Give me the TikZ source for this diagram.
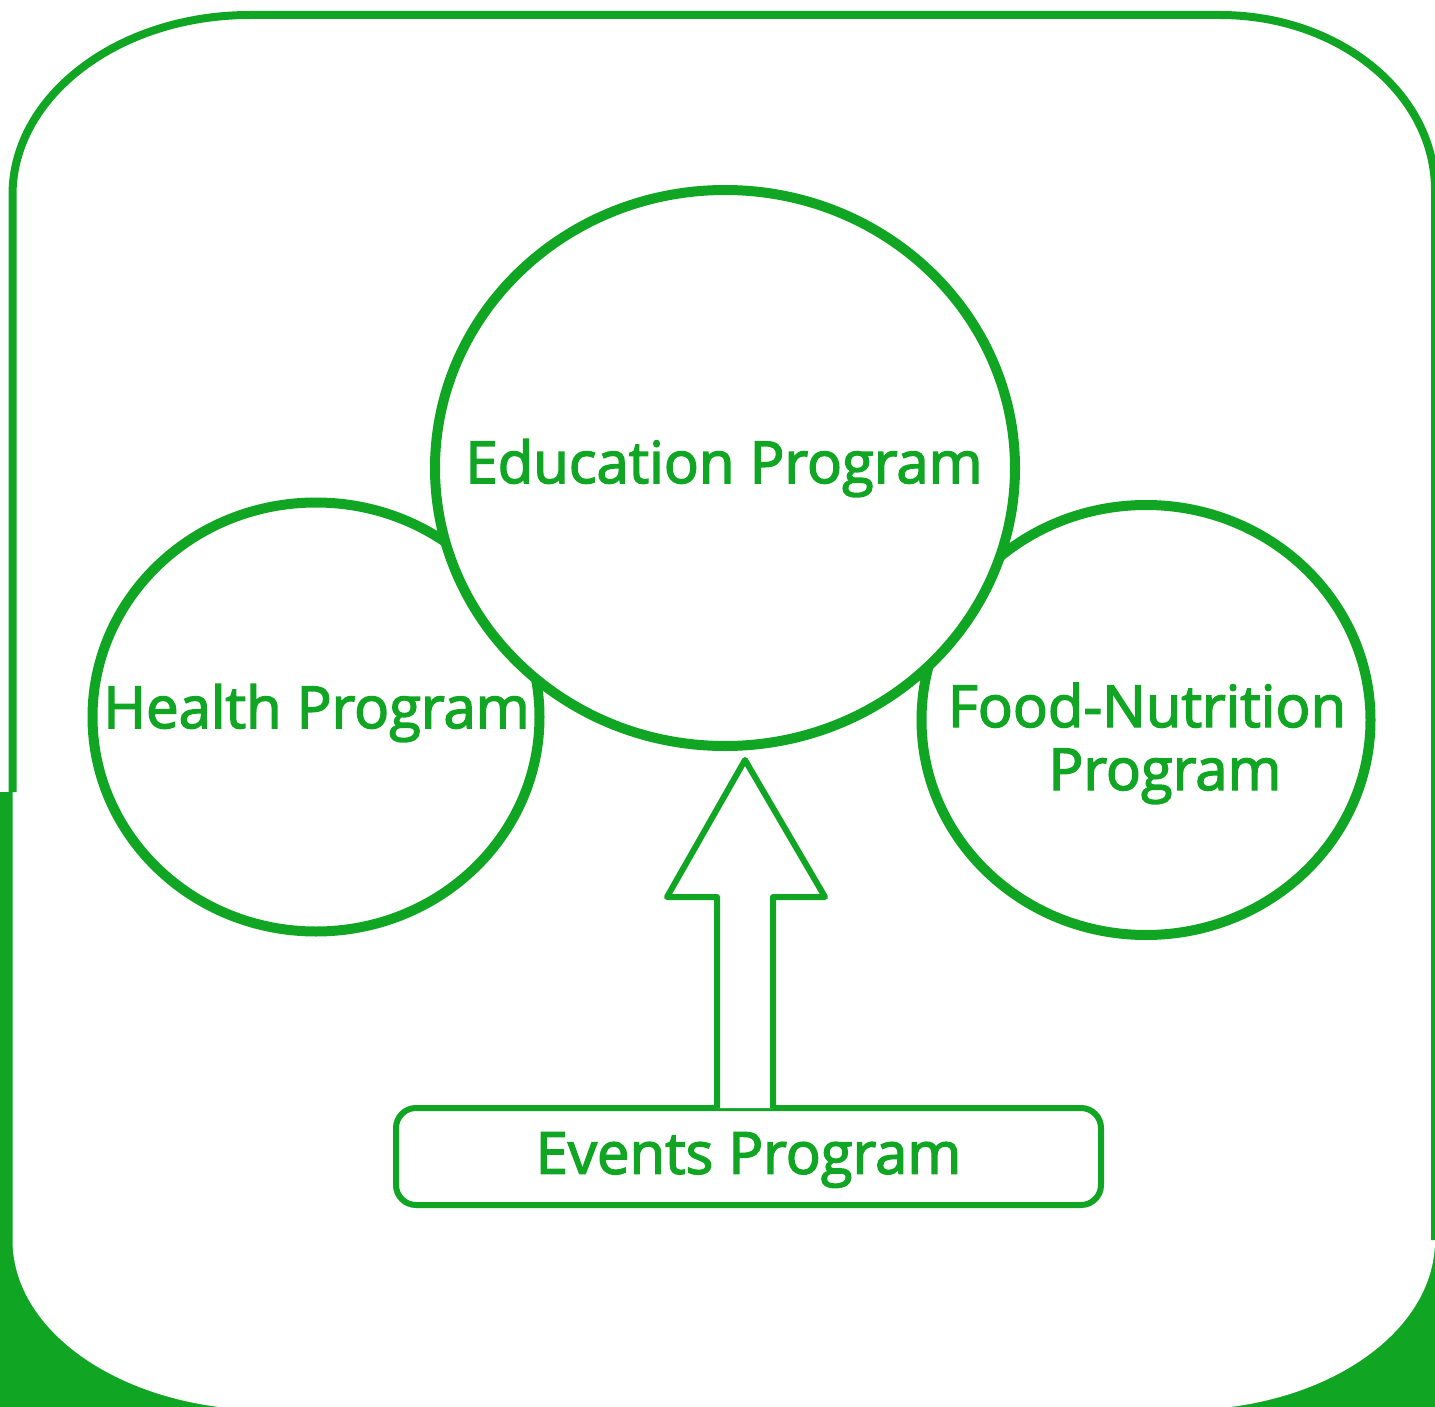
\documentclass[tikz,border=0pt]{standalone}
\usepackage{fontspec}
\setmainfont{Open Sans}
\newfontfamily\lblfont{Open Sans}[FakeBold=2.5]
\usetikzlibrary{shapes.geometric,calc}
\definecolor{pgreen}{RGB}{16,166,36}
\begin{document}
\begin{tikzpicture}[x=0.5pt,y=-0.5pt,
  bigcirc/.style={ellipse,draw=pgreen,line width=5pt,fill=white,inner sep=0pt},
  lbl/.style={text=pgreen,font=\lblfont\fontsize{29}{36}\selectfont,inner sep=0pt},
  evbox/.style={draw=pgreen,line width=3pt,rounded corners=10pt,fill=white,minimum width=352.5pt,minimum height=48.5pt,inner sep=0pt},
  arrowline/.style={draw=pgreen,line width=3pt,line join=round,fill=white}]
\useasboundingbox (0,0) rectangle (1435,1407);
% outside green areas
\fill[pgreen] (0,792) rectangle (16,1407);
\fill[pgreen] (0,1225) rectangle (1435,1407);
% white frame interior
\fill[white] (12.5,1240) -- (12.5,195)
  .. controls (12.5,95.6) and (118.8,15) .. (250,15)
  -- (1220,15)
  .. controls (1338.7,15) and (1435,93.3) .. (1435,190)
  -- (1435,1240)
  .. controls (1435,1333.9) and (1322.2,1410) .. (1183,1410)
  -- (267,1410)
  .. controls (126.4,1410) and (12.5,1333.9) .. (12.5,1240) -- cycle;
% frame outline
\draw[pgreen,line width=4pt] (12.5,792) -- (12.5,195)
  .. controls (12.5,95.6) and (118.8,15) .. (250,15)
  -- (1220,15)
  .. controls (1338.7,15) and (1435,93.3) .. (1435,190)
  -- (1435,1240);
% circles
\node[bigcirc,minimum width=223.5pt,minimum height=214.5pt] (health) at (316,717) {};
\node[bigcirc,minimum width=224.5pt,minimum height=215pt] (food) at (1146,720) {};
\node[bigcirc,minimum width=290pt,minimum height=278pt] (edu) at (725,468) {};
% labels
\node[lbl] (edutxt) at (724,468) {Education Program};
\node[lbl] (healthtxt) at (316.5,713) {Health Program};
\node[lbl,anchor=base] (foodtxt1) at (1147,727) {Food-Nutrition};
\node[lbl,anchor=base] (foodtxt2) at (1165,790) {Program};
% events box
\node[evbox] (evt) at (748.5,1156.5) {};
\node[lbl] (evttxt) at (748.5,1160) {Events Program};
% block arrow
\coordinate (tip) at (745,760);
\coordinate (base) at (745,1108);
\path[arrowline] ($(base)+(-28,0)$) -- ($(base)+(-28,-211)$) -- ($(base)+(-78,-211)$)
  -- (tip) -- ($(base)+(80,-211)$) -- ($(base)+(28,-211)$) -- ($(base)+(28,0)$);
\end{tikzpicture}
\end{document}
